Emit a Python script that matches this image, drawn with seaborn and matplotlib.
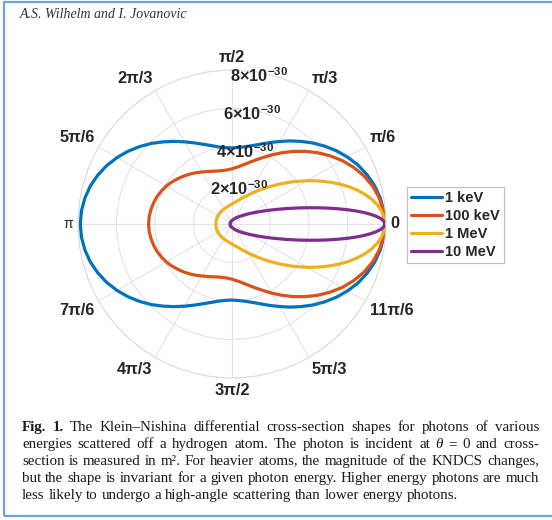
import numpy as np
import pandas as pd
import matplotlib
matplotlib.use("Agg")
import matplotlib.pyplot as plt
import matplotlib.transforms as mtransforms
from matplotlib.patches import Rectangle
import seaborn as sns

# ---------------- data (r in units of 1e-30 m^2) -------------
# half-plane values 0..180 deg, the pattern is mirror-symmetric about theta = 0
ang_1keV = list(range(0, 181, 5))
r_1keV = [7.94, 7.91, 7.82, 7.67, 7.47, 7.23, 6.94, 6.63, 6.29, 5.95, 5.60, 5.27,
          4.95, 4.67, 4.42, 4.22, 4.08, 3.99, 3.95, 3.98, 4.07, 4.22, 4.41, 4.65,
          4.93, 5.24, 5.57, 5.92, 6.26, 6.59, 6.90, 7.18, 7.42, 7.62, 7.76, 7.85, 7.88]

ang_100keV = list(range(0, 181, 5))
r_100keV = [7.94, 7.90, 7.77, 7.57, 7.30, 6.97, 6.60, 6.19, 5.77, 5.34, 4.92, 4.52,
            4.15, 3.81, 3.53, 3.29, 3.10, 2.96, 2.87, 2.82, 2.82, 2.85, 2.92, 3.01,
            3.12, 3.25, 3.39, 3.53, 3.67, 3.81, 3.94, 4.05, 4.15, 4.22, 4.28, 4.32, 4.33]

ang_1MeV = [0, 2.5, 5, 7.5, 10, 12.5, 15, 17.5, 20, 22.5, 25, 27.5, 30] + list(range(35, 181, 5))
r_1MeV = [7.94, 7.90, 7.79, 7.62, 7.38, 7.09, 6.76, 6.40, 6.02, 5.63, 5.24, 4.86, 4.50,
          3.82, 3.23, 2.74, 2.34, 2.02, 1.76, 1.56, 1.40, 1.27, 1.18, 1.10, 1.04,
          1.00, 0.96, 0.93, 0.91, 0.90, 0.88, 0.87, 0.86, 0.86, 0.85, 0.85, 0.85,
          0.85, 0.84, 0.84, 0.84, 0.84, 0.84]

ang_10MeV = list(range(0, 21)) + [22] + list(range(25, 181, 5))
r_10MeV = [7.94, 7.89, 7.75, 7.52, 7.22, 6.87, 6.48, 6.06, 5.63, 5.21, 4.81, 4.42,
           4.06, 3.73, 3.42, 3.14, 2.89, 2.66, 2.46, 2.27, 2.11,
           1.82,
           1.49, 1.10, 0.85, 0.68, 0.56, 0.47, 0.40, 0.35, 0.30, 0.27, 0.24, 0.22,
           0.20, 0.18, 0.17, 0.16, 0.15, 0.14, 0.13, 0.13, 0.12, 0.12, 0.11, 0.11,
           0.11, 0.11, 0.10, 0.10, 0.10, 0.10, 0.10, 0.10]

energies = ["1 keV", "100 keV", "1 MeV", "10 MeV"]
colors = ["#0072BD", "#D95319", "#EDB120", "#7E2F8E"]

r_ticks = [2, 4, 6, 8]
r_tick_labels = [r"2×10$^{-30}$", r"4×10$^{-30}$", r"6×10$^{-30}$", r"8×10$^{-30}$"]
theta_tick_deg = [0, 30, 60, 90, 120, 150, 180, 210, 240, 270, 300, 330]
theta_tick_labels = ["0", "π/6", "π/3", "π/2", "2π/3", "5π/6", "π",
                     "7π/6", "4π/3", "3π/2", "5π/3", "11π/6"]

header = "A.S. Wilhelm and I. Jovanovic"
caption_lines = [
    "Fig. 1. The Klein–Nishina differential cross-section shapes for photons of various",
    "energies scattered off a hydrogen atom. The photon is incident at θ = 0 and cross-",
    "section is measured in m². For heavier atoms, the magnitude of the KNDCS changes,",
    "but the shape is invariant for a given photon energy. Higher energy photons are much",
    "less likely to undergo a high-angle scattering than lower energy photons.",
]

# ---------------- build long table ----------------
series = [(ang_1keV, r_1keV), (ang_100keV, r_100keV), (ang_1MeV, r_1MeV), (ang_10MeV, r_10MeV)]
rows = []
for name, (angs, rs) in zip(energies, series):
    full_a = list(angs) + [360 - a for a in reversed(angs[:-1])]
    full_r = list(rs) + list(reversed(rs[:-1]))
    for a, r in zip(full_a, full_r):
        rows.append({"theta": np.deg2rad(a), "r": r, "energy": name})
df = pd.DataFrame(rows)

# ---------------- figure ----------------
sns.set_theme(style="white")
plt.rcParams["font.family"] = ["Liberation Sans", "DejaVu Sans"]
plt.rcParams["mathtext.fontset"] = "custom"
plt.rcParams["mathtext.rm"] = "Liberation Sans:bold"
plt.rcParams["mathtext.bf"] = "Liberation Sans:bold"
plt.rcParams["mathtext.it"] = "Liberation Sans:italic:bold"
plt.rcParams["mathtext.default"] = "rm"

W, H = 552, 520
fig = plt.figure(figsize=(W / 100, H / 100), dpi=100)
fig.patch.set_facecolor("white")

cx, cy, R = 232, 224, 154
ax = fig.add_axes([(cx - R) / W, (H - cy - R) / H, 2 * R / W, 2 * R / H], projection="polar")
ax.set_facecolor("white")

sns.lineplot(data=df, x="theta", y="r", hue="energy", hue_order=energies,
             palette=colors, sort=False, estimator=None, linewidth=2.3, ax=ax)

ax.set_ylim(0, 8)
ax.set_yticks(r_ticks)
ax.set_yticklabels([])
ax.set_xticks(np.deg2rad(theta_tick_deg))
ax.set_xticklabels([])
ax.set_xlabel("")
ax.set_ylabel("")
ax.grid(True, color="#e3e3e3", linewidth=0.8)
ax.spines["polar"].set_color("#dcdcdc")
ax.spines["polar"].set_linewidth(0.8)
ax.set_axisbelow(True)

# theta tick labels, anchored outside the circle by their near edge
for deg, lab in zip(theta_tick_deg, theta_tick_labels):
    c, s = np.cos(np.deg2rad(deg)), np.sin(np.deg2rad(deg))
    ha = "center" if abs(c) < 0.1 else ("left" if c > 0 else "right")
    va = "center" if abs(s) < 0.1 else ("bottom" if s > 0 else "top")
    if lab == "π":
        ax.text(np.deg2rad(deg), 8.25, lab, ha=ha, va=va, fontsize=10,
                color="#262626", clip_on=False)
    else:
        ax.text(np.deg2rad(deg), 8.25, lab, ha=ha, va=va, fontsize=11.8,
                fontweight="bold", color="#262626", clip_on=False)

# radial tick labels along 80 degrees
off = mtransforms.offset_copy(ax.transData, fig=fig, x=0, y=-3, units="dots")
for rv, lab in zip(r_ticks, r_tick_labels):
    ax.text(np.deg2rad(80), rv, lab, ha="center", va="center", fontsize=11.8,
            fontweight="bold", color="#262626", transform=off, clip_on=False)

sns.move_legend(ax, loc="upper left", bbox_to_anchor=(407 / W, 1 - 187 / H),
                bbox_transform=fig.transFigure, title=None, frameon=True,
                fancybox=False, borderaxespad=0, handlelength=2.1,
                handletextpad=0.2, labelspacing=0.26, borderpad=0.3,
                prop={"weight": "bold", "size": 10.5})
leg = ax.get_legend()
leg.get_frame().set_edgecolor("#b0b0b0")
leg.get_frame().set_linewidth(0.8)
for t in leg.get_texts():
    t.set_color("#262626")
for h in leg.get_lines():
    h.set_linewidth(2.3)

# ---------------- page decorations ----------------
fig.add_artist(Rectangle((4 / W, 1 - 516 / H), 1.0, (516 - 2) / H, transform=fig.transFigure,
                         facecolor="none", edgecolor="#6fa6da", linewidth=1.6, clip_on=False))

fig.text(20 / W, 1 - 18 / H, header, fontsize=10, family="Liberation Serif",
         style="italic", color="#333333", va="baseline", ha="left")

# caption, justified
renderer = fig.canvas.get_renderer()
x_left, x_right = 22, 539
baselines = [431, 448, 465, 482, 499]


def make_words(i, line, size):
    objs = []
    for j, w in enumerate(line.split(" ")):
        kw = {}
        if i == 0 and j < 2:
            kw["fontweight"] = "bold"
        if w == "θ":
            kw["style"] = "italic"
        objs.append(fig.text(0, 0, w, fontsize=size, family="Liberation Serif",
                             color="#1a1a1a", va="baseline", ha="left", **kw))
    return objs


# choose size so the widest justified line has a small natural stretch
probe = 10.0
nat = []
for i, line in enumerate(caption_lines[:-1]):
    objs = make_words(i, line, probe)
    wsum = sum(o.get_window_extent(renderer).width for o in objs)
    nat.append(wsum + (len(objs) - 1) * 0.25 * probe * 100 / 72)
    for o in objs:
        o.remove()
cap_size = probe * 510 / max(nat)
space_px = 0.25 * cap_size * 100 / 72

for i, (line, yb) in enumerate(zip(caption_lines, baselines)):
    objs = make_words(i, line, cap_size)
    widths = [o.get_window_extent(renderer).width for o in objs]
    if i < len(caption_lines) - 1:
        gap = (x_right - x_left - sum(widths)) / (len(objs) - 1)
    else:
        gap = space_px
    x = x_left
    for o, wdt in zip(objs, widths):
        o.set_position((x / W, 1 - yb / H))
        x += wdt + gap

fig.savefig("out.png", dpi=100)
